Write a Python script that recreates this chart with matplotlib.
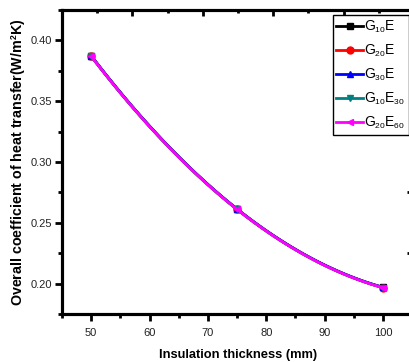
import matplotlib
matplotlib.use("Agg")
import matplotlib.pyplot as plt
import numpy as np
try:
    import matplotlib._mathtext as _mt
    _mt.SHRINK_FACTOR = 0.6  # smaller subscripts, as in the original
except Exception:
    pass

plt.rcParams['font.family'] = ['Liberation Sans', 'DejaVu Sans']
plt.rcParams['mathtext.fontset'] = 'custom'
plt.rcParams['mathtext.rm'] = 'Liberation Sans'
plt.rcParams['mathtext.it'] = 'Liberation Sans:italic'
plt.rcParams['mathtext.bf'] = 'Liberation Sans:bold'

# data
thickness = [50, 75, 100]
labels = [r'G$_{10}$E', r'G$_{20}$E', r'G$_{30}$E', r'G$_{10}$E$_{30}$', r'G$_{20}$E$_{60}$']
u_g10e = [0.3872, 0.2612, 0.1968]
u_g20e = [0.3871, 0.2611, 0.1967]
u_g30e = [0.3874, 0.2613, 0.1969]
u_g10e30 = [0.3870, 0.2610, 0.1966]
u_g20e60 = [0.3870, 0.2610, 0.1966]
series = [u_g10e, u_g20e, u_g30e, u_g10e30, u_g20e60]
colors = ['black', 'red', 'blue', '#008080', 'magenta']
markers = ['s', 'o', '^', 'v', '<']

fig = plt.figure(figsize=(4.1, 3.62), dpi=100)
ax = fig.add_axes([62/410, 48/362, 352/410, 304/362])

xs = np.linspace(thickness[0], thickness[-1], 101)
for vals, lab, c, m in zip(series, labels, colors, markers):
    coef = np.polyfit(thickness, vals, 2)
    ax.plot(xs, np.polyval(coef, xs), color=c, lw=2, marker=m, ms=5,
            markevery=[0, 50, 100], label=lab)

ax.set_xlim(45, 105.3)
ax.set_ylim(0.175, 0.425)
ax.set_xticks([50, 60, 70, 80, 90, 100])
ax.set_xticks(np.arange(45, 106, 10), minor=True)
ax.set_yticks([0.20, 0.25, 0.30, 0.35, 0.40])
ax.set_yticks(np.arange(0.175, 0.426, 0.05), minor=True)
ax.tick_params(which='major', direction='out', length=5, width=2, labelsize=8,
               labelcolor='#222222')
ax.tick_params(axis='y', which='major', pad=2)
ax.tick_params(axis='x', which='major', pad=5)
ax.tick_params(which='minor', direction='out', length=3, width=2)
ax.tick_params(top=False, right=False)
for s in ax.spines.values():
    s.set_linewidth(2.2)

# top and right frames carry their own inward ticks
axt = ax.twiny()
axt.set_xlim(0, 10)
axt.set_xticks(np.arange(2, 10, 2))
axt.set_xticks(np.arange(1, 11, 2), minor=True)
axt.tick_params(which='major', direction='in', length=4, width=2, labeltop=False)
axt.tick_params(which='minor', direction='in', length=2.5, width=2)
axr = ax.twinx()
axr.set_ylim(0, 10)
axr.set_yticks(np.arange(2, 10, 2))
axr.set_yticks(np.arange(1, 11, 2), minor=True)
axr.tick_params(which='major', direction='in', length=5, width=2, labelright=False)
axr.tick_params(which='minor', direction='in', length=2, width=2)
for a in (axt, axr):
    for s in a.spines.values():
        s.set_linewidth(2.2)
for a in (ax, axt, axr):
    a.spines['right'].set_visible(False)

ax.set_xlabel('Insulation thickness (mm)', fontsize=9.3, fontweight='bold', labelpad=8)
ax.set_ylabel('Overall coefficient of heat transfer(W/m$^\\mathbf{2}$K)',
              fontsize=10.3, fontweight='bold', labelpad=2)

handles, labs = ax.get_legend_handles_labels()
leg = axr.legend(handles, labs, loc='upper left', bbox_to_anchor=(333/410, 1 - 15/362),
                 bbox_transform=fig.transFigure, fontsize=10, frameon=True,
                 fancybox=False, handlelength=1.9, handletextpad=0.1,
                 borderpad=0.25, labelspacing=0.55, borderaxespad=0)
leg.get_frame().set_edgecolor('black')
leg.get_frame().set_linewidth(1)
leg.get_frame().set_alpha(1)

fig.savefig('out.png', dpi=100)
